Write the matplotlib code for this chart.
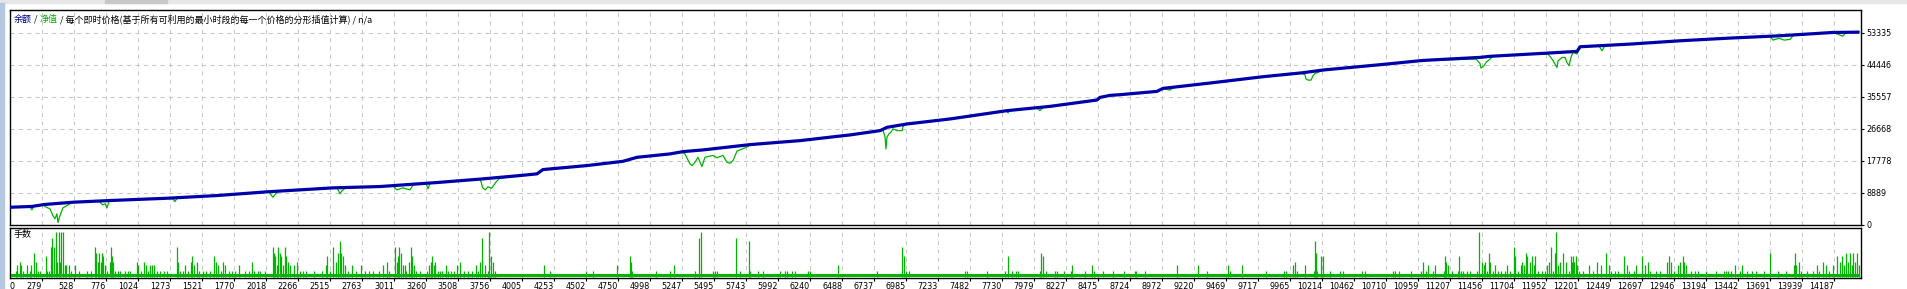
import matplotlib
matplotlib.use('Agg')
import matplotlib.pyplot as plt
from matplotlib.patches import Rectangle

plt.rcParams['font.family'] = ['Noto Sans CJK SC', 'DejaVu Sans']

# balance curve (trade number, account balance)
balance_trade = [38, 201, 295, 520, 807, 1249, 1637, 2025, 2281, 2537, 2902, 3344, 3702, 3989,
                 4121, 4167, 4509, 4788, 4897, 5153, 5254, 5409, 5774, 6162, 6550, 6783, 6837,
                 6992, 7326, 7768, 8102, 8467, 8490, 8568, 8645, 8932, 8979, 9344, 9755, 10066,
                 10221, 10686, 10997, 11439, 11517, 11827, 12192, 12216, 12603, 12991, 13379,
                 13767, 14179, 14373]
balance_value = [4930, 5150, 5680, 6320, 6790, 7420, 8170, 9200, 9750, 10300, 10670, 11780, 12800,
                 13720, 14190, 15380, 16490, 17670, 18780, 19720, 20360, 20830, 22300, 23410,
                 24990, 26180, 27100, 28030, 29420, 31720, 32910, 34680, 35400, 35960, 36150,
                 37070, 37900, 39390, 41140, 42250, 43000, 44550, 45660, 46500, 46800, 47420,
                 48160, 49450, 50190, 51110, 51860, 52500, 53420, 53500]

# equity curve (trade number, equity)
equity_trade = [38, 150, 185, 201, 215, 295, 302, 341, 364, 380, 395, 403, 419, 434, 442, 473, 496,
                520, 720, 750, 770, 783, 800, 807, 1249, 1290, 1311, 1330, 1637, 2025, 2040, 2060,
                2072, 2090, 2110, 2281, 2537, 2570, 2592, 2610, 2640, 2902, 3000, 3034, 3080, 3135,
                3160, 3260, 3275, 3290, 3344, 3680, 3700, 3720, 3740, 3770, 3800, 3830, 3989, 4121,
                4167, 4509, 4788, 4897, 5153, 5230, 5269, 5308, 5324, 5347, 5370, 5401, 5424, 5487,
                5518, 5564, 5595, 5618, 5642, 5673, 5719, 5758, 5774, 6162, 6550, 6783, 6806, 6822,
                6829, 6837, 6853, 6868, 6884, 6915, 6954, 6961, 6977, 6992, 7326, 7768, 7776, 7790,
                8001, 8024, 8047, 8102, 8467, 8490, 8568, 8645, 8932, 8979, 9033, 9060, 9344, 9755,
                10050, 10081, 10089, 10105, 10128, 10143, 10159, 10182, 10221, 10686, 10997, 11408,
                11439, 11447, 11470, 11486, 11517, 11540, 11827, 11967, 11998, 12022, 12037, 12045,
                12076, 12099, 12114, 12130, 12145, 12161, 12192, 12216, 12360, 12386, 12410, 12603,
                12991, 13379, 13690, 13713, 13760, 13800, 13845, 13870, 14179, 14256, 14280, 14373]
equity_value = [4930, 5100, 5100, 4200, 5150, 5680, 5130, 4490, 2630, 1720, 3100, 690, 2630, 4020,
                 4760, 5400, 5870, 6320, 6650, 5600, 5900, 4760, 6500, 6790, 7420, 7480, 6500, 7500,
                 8170, 9200, 9250, 8200, 7700, 8500, 9300, 9750, 10300, 10350, 8640, 9600, 10400,
                 10670, 10950, 9750, 10300, 9750, 11200, 11500, 10030, 11550, 11780, 12740, 10300,
                 9750, 10600, 10200, 11800, 12950, 13720, 14190, 15380, 16490, 17670, 18780, 19720,
                 20300, 19720, 16950, 16480, 17400, 18780, 16200, 18780, 19300, 18650, 19300, 17400,
                 17120, 17880, 20500, 21170, 21800, 22300, 23410, 24990, 26180, 26300, 24400, 21100,
                 24400, 25300, 25760, 26680, 26180, 26180, 27300, 27800, 28030, 29420, 31720, 31080,
                 31800, 32500, 31720, 32600, 32910, 34680, 35400, 35960, 36150, 37070, 37900, 37440,
                 38100, 39390, 41140, 42200, 41700, 40500, 40200, 40200, 41410, 42050, 42330, 43000,
                 44550, 45660, 46040, 44820, 43540, 44180, 45100, 46040, 46850, 47420, 47420, 46040,
                 44650, 43700, 45560, 46480, 46480, 45100, 44180, 46480, 47970, 47420, 49450, 49800,
                 48330, 49850, 50190, 51110, 51860, 52400, 51300, 51800, 51300, 51500, 52600, 53420,
                 52400, 53400, 53500]

# lots per trade (only trades above the minimum lot)
base_lot = 0.01
lot_trade = [74, 89, 105, 120, 135, 166, 187, 197, 218, 230, 252, 267, 310, 322, 335, 350, 359, 371,
             390, 399, 408, 420, 430, 442, 454, 466, 485, 503, 537, 564, 626, 656, 690, 702, 715,
             724, 736, 745, 754, 767, 782, 806, 816, 825, 834, 849, 871, 886, 923, 947, 963, 1015,
             1027, 1046, 1070, 1085, 1101, 1116, 1131, 1150, 1168, 1193, 1223, 1248, 1325, 1337,
             1352, 1370, 1392, 1410, 1432, 1447, 1462, 1484, 1499, 1530, 1554, 1585, 1616, 1628,
             1643, 1665, 1683, 1701, 1732, 1750, 1775, 1812, 1852, 1888, 1910, 1928, 1953, 1974,
             2008, 2069, 2078, 2091, 2103, 2112, 2124, 2137, 2149, 2164, 2174, 2189, 2207, 2235,
             2256, 2281, 2302, 2327, 2388, 2449, 2480, 2495, 2517, 2541, 2560, 2578, 2590, 2603,
             2618, 2633, 2652, 2682, 2713, 2756, 2787, 2817, 2848, 2894, 2924, 2955, 2976, 3016,
             3032, 3044, 3053, 3065, 3078, 3093, 3108, 3130, 3142, 3154, 3170, 3185, 3216, 3265,
             3283, 3295, 3308, 3320, 3332, 3350, 3369, 3387, 3412, 3430, 3455, 3473, 3498, 3522,
             3553, 3583, 3614, 3645, 3663, 3681, 3697, 3718, 3737, 3749, 3764, 3780, 3792, 4172,
             4218, 4503, 4559, 4742,
             4839, 4848, 4857, 5044, 5155, 5182, 5345, 5375, 5397, 5489, 5504, 5516, 5663, 5694,
             5764, 5774, 5835, 5872, 6004, 6049, 6059, 6099, 6126, 6221, 6240, 6460, 6761, 6951,
             6966, 6981, 7006, 7441, 7456, 7610, 7751, 7778, 7809, 7839, 7855, 8026, 8036, 8045,
             8072, 8140, 8158, 8207, 8262, 8275, 8373, 8431, 8446, 8514, 8593, 8679, 8759, 8768,
             8839, 9090, 9249, 9323, 9482, 9501,
             9595, 9776, 9920, 9932, 9985, 10001, 10017, 10079, 10148, 10157, 10166, 10176, 10204,
             10220, 10276, 10354, 10376, 10526, 10544, 10763, 10782, 10810, 10904, 10978, 11000,
             11019, 11038, 11075, 11088, 11160, 11169, 11178, 11194, 11225, 11272, 11278, 11294,
             11310, 11338, 11359, 11413, 11434, 11453, 11472, 11481, 11494, 11506, 11519, 11537,
             11556, 11578, 11603, 11631, 11650, 11669, 11703, 11712, 11737, 11756, 11769, 11781,
             11794, 11806, 11825, 11840, 11856, 11869, 11887, 11918, 11947, 11959, 11975, 11990,
             12006, 12022, 12031, 12047, 12062, 12087, 12106, 12131, 12146, 12153, 12162, 12171,
             12181, 12193, 12209, 12240, 12287, 12318, 12349, 12381, 12418, 12437, 12459, 12490,
             12512, 12559, 12577, 12599, 12631, 12646, 12696, 12718, 12740, 12762, 12802, 12833,
             12890, 12905, 12918, 12943, 12974, 12993, 13015, 13024, 13037, 13080, 13105, 13130,
             13193, 13271, 13336, 13349, 13364, 13386, 13417, 13458, 13474, 13511, 13552, 13583,
             13642, 13686, 13749, 13811, 13873, 13880, 13895, 13911, 13930, 13980, 14020, 14055,
             14073, 14098, 14123, 14145, 14177, 14208, 14230, 14248, 14261, 14280, 14292, 14311,
             14323, 14336, 14348, 14367, 14379]
lot_size = [.02, .04, .05, .04, .02, .04, .02, .04, .08, .05, .02, .02, .07, .02, .02, .10, .13, .10,
            .15, .05, .15, .05, .15, .15, .04, .04, .04, .02, .04, .02, .02, .02, .10, .08, .05,
            .08, .05, .08, .07, .04, .02, .05, .10, .07, .05, .02, .02, .02, .02, .02, .02, .05,
            .04, .02, .05, .04, .02, .04, .04, .04, .02, .02, .02, .02, .10, .05,
            .02, .02, .04, .02, .05, .07, .04, .05, .02, .02, .02, .02, .07, .05,
            .04, .02, .05, .04, .02, .02, .02, .04, .02, .02, .05, .02, .02, .02,
            .02, .10, .08, .07, .04, .10, .08, .07, .04, .10, .07, .05, .04, .04,
            .05, .02, .02, .02, .02, .02, .04, .07, .02, .10, .05, .08, .12, .08,
            .07, .04, .02, .04, .02, .04, .02, .02, .02, .02, .04, .05, .02, .10,
            .05, .07, .10, .08, .04, .04, .02, .05, .10, .07, .04, .02, .02, .02,
            .04, .05, .07, .04, .05, .02, .02, .02, .04, .02, .02, .02, .04, .05,
            .02, .02, .02, .04, .02, .05, .13, .04, .02, .15, .07, .05, .02, .04,
            .02, .02, .02, .04,
            .07, .05, .02, .02, .02, .04, .02, .13, .15, .02, .02, .02, .13, .02,
            .12, .02, .02, .02, .02, .02, .02, .02, .02, .02, .02, .04, .02, .10,
            .07, .02, .02, .02, .02, .02, .02, .07, .02, .02, .02, .02, .08, .07,
            .02, .02, .02, .02, .02, .04, .02, .04, .02, .02, .02, .02, .02, .02,
            .02, .04, .04, .02, .04, .02,
            .04, .02, .02, .02, .04, .05, .02, .04, .02, .12, .08, .02, .07,
            .07, .02, .02, .02, .02, .02, .02, .02, .02, .02, .02, .05,
            .02, .04, .02, .04, .02, .07, .05, .04, .02, .02, .07, .02,
            .02, .02, .02, .02, .15, .05, .04, .05, .02, .08, .05, .02,
            .04, .02, .02, .02, .04, .02, .10, .07, .02, .04, .05, .04,
            .08, .07, .05, .07, .04, .07, .02, .02, .02, .04, .05, .10,
            .02, .08, .15, .04, .05, .08, .05, .02, .07, .05, .07, .05,
            .07, .04, .02, .02, .04, .02, .05, .04, .08, .04, .02, .02,
            .02, .07, .04, .02, .02, .04, .07, .04, .05, .02, .02, .02,
            .05, .07, .05, .02, .04, .05, .07, .05, .04, .02, .02, .02,
            .02, .02, .02, .02, .02, .02, .04, .02, .04, .02, .02, .02,
            .02, .08, .02, .02, .04, .08, .04, .05, .02, .02, .02, .04,
            .02, .05, .04, .02, .04, .07, .05, .07, .04, .08, .05, .08,
            .04, .08, .05, .08, .04]

x_ticks = [279, 528, 776, 1024, 1273, 1521, 1770, 2018, 2266, 2515, 2763, 3011, 3260, 3508, 3756,
           4005, 4253, 4502, 4750, 4998, 5247, 5495, 5743, 5992, 6240, 6488, 6737, 6985, 7233,
           7482, 7730, 7979, 8227, 8475, 8724, 8972, 9220, 9469, 9717, 9965, 10214, 10462, 10710,
           10959, 11207, 11456, 11704, 11952, 12201, 12449, 12697, 12946, 13194, 13442, 13691,
           13939, 14187]
y_ticks = [0, 8889, 17778, 26668, 35557, 44446, 53335]

W, H = 1907, 289
fig = plt.figure(figsize=(W / 100, H / 100), dpi=100)
fig.patch.set_facecolor('white')


def box(l, t, r, b):
    return [l / W, 1 - b / H, (r - l) / W, (b - t) / H]


# window chrome
fig.patches.append(Rectangle((0, 1 - 3 / H), 1, 3 / H, transform=fig.transFigure, color='#e6e6e6', zorder=0))
fig.patches.append(Rectangle((105 / W, 1 - 3 / H), 62 / W, 3 / H, transform=fig.transFigure, color='#c8c8c8', zorder=0))
fig.patches.append(Rectangle((0, 0), 4 / W, 1 - 3 / H, transform=fig.transFigure, color='#b4c8e0', zorder=0))

grid_kw = dict(color='#c8c8c8', linestyle=(0, (4, 4)), linewidth=0.75)
xlo, xhi = 31, 14396
tick_font = dict(family='DejaVu Sans', size=5.8)

ax = fig.add_axes(box(10, 10, 1861, 225))
ax.plot(equity_trade, equity_value, color='#00b400', lw=0.9, zorder=3)
ax.plot(balance_trade, balance_value, color='#0000aa', lw=2.3, zorder=4)
ax.set_xlim(xlo, xhi)
ax.set_ylim(0, 59650)
ax.set_xticks(x_ticks)
ax.tick_params(axis='x', length=0, labelbottom=False)
ax.yaxis.tick_right()
ax.set_yticks(y_ticks)
ax.set_yticklabels([str(v) for v in y_ticks], **tick_font)
ax.tick_params(axis='y', direction='out', length=2.5, width=0.8, pad=1.2, colors='black')
ax.grid(True, **grid_kw)
ax.set_axisbelow(True)
for s in ax.spines.values():
    s.set_color('black')
    s.set_linewidth(1.0)

ax2 = fig.add_axes(box(10, 228, 1861, 278))
ax2.fill_between([38, 14380], 0, base_lot, color='#00b400', lw=0, zorder=3)
ax2.vlines(lot_trade, 0, lot_size, color='#00b400', lw=0.9, zorder=3)
ax2.set_xlim(xlo, xhi)
ax2.set_ylim(-0.0017, 0.163)
ax2.set_yticks([])
ax2.set_xticks([xlo] + x_ticks)
ax2.set_xticklabels(['0'] + [str(v) for v in x_ticks], **tick_font)
ax2.tick_params(axis='x', direction='out', length=2, width=0.8, pad=0.6, colors='black')
for lbl in ax2.get_xticklabels():
    lbl.set_horizontalalignment('right')
ax2.get_xticklabels()[0].set_horizontalalignment('left')
ax2.xaxis.get_major_ticks()[0].tick1line.set_visible(False)
ax2.grid(True, axis='x', **grid_kw)
ax2.set_axisbelow(True)
for s in ax2.spines.values():
    s.set_color('black')
    s.set_linewidth(1.0)
ax2.text(4 / 1851, 1 - 6 / 50, '手数', transform=ax2.transAxes, fontsize=6.5, va='center', ha='left', color='black')

# multi-coloured legend line at top left
title_parts = [('余额', '#000090'), (' / ', 'black'), ('净值', '#00b000'),
               (' / 每个即时价格(基于所有可利用的最小时段的每一个价格的分形插值计算) / n/a', 'black')]
renderer = fig.canvas.get_renderer()
x = 14
for s, c in title_parts:
    t = fig.text(x / W, 1 - 19 / H, s, color=c, fontsize=6.5, va='center', ha='left')
    x += t.get_window_extent(renderer).width

fig.savefig('out.png', dpi=100)
